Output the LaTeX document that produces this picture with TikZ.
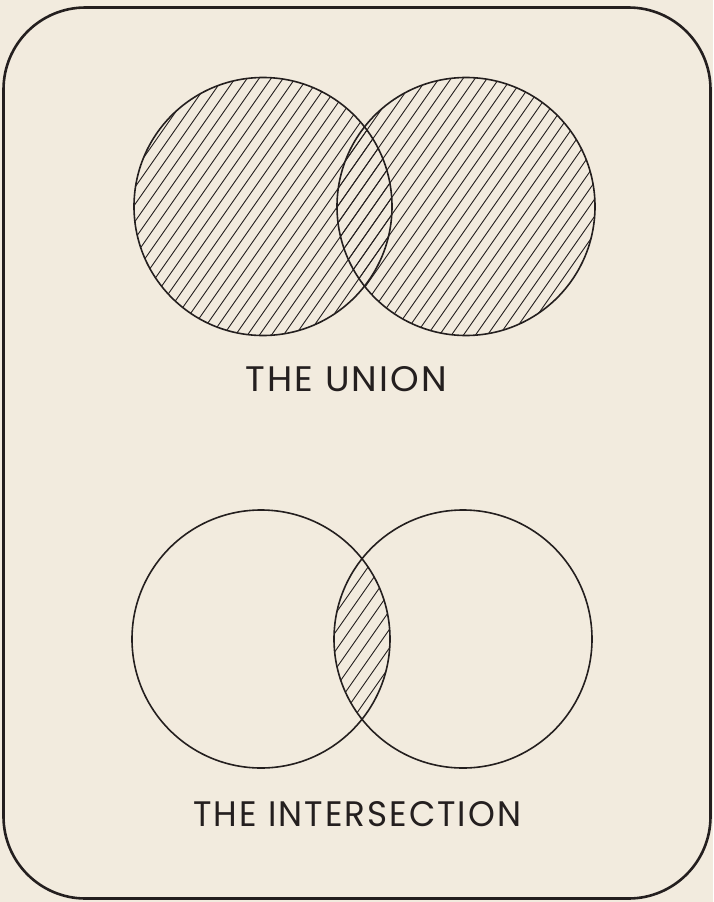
\documentclass[tikz,border=0pt]{standalone}
\usepackage{fontspec}
\setmainfont{Poppins}
\definecolor{paper}{HTML}{F2EBDE}
\definecolor{ink}{HTML}{241F1F}
\tikzset{
  outline/.style={draw=ink, line width=1.6pt},
  hatchline/.style={draw=ink, line width=0.9pt},
  frame/.style={draw=ink, line width=2.6pt, rounded corners=82pt},
  caption/.style={inner sep=0pt, text=ink}
}
\begin{document}
\begin{tikzpicture}[x=1pt,y=-1pt]
\fill[paper] (0,0) rectangle (713,902);
\useasboundingbox (0,0) rectangle (713,902);
\draw[frame] (3.5,7.5) rectangle (710.5,898.5);
% union
\coordinate (UL) at (263,206.5);
\coordinate (UR) at (466,206.5);
\begin{scope}
  \clip (UL) circle[radius=129pt];
  \foreach \c in {-110,-98,...,570} \draw[hatchline] (\c,400) -- (\c+280,0);
\end{scope}
\begin{scope}
  \clip (UR) circle[radius=129pt];
  \foreach \c in {-110,-98,...,570} \draw[hatchline] (\c,400) -- (\c+280,0);
\end{scope}
\draw[outline] (UL) circle[radius=129pt];
\draw[outline] (UR) circle[radius=129pt];
\node[caption, anchor=south west] (union) at (245,392)
  {\resizebox{202pt}{25pt}{\addfontfeature{LetterSpace=6}THE UNION}};
% intersection
\coordinate (LL) at (261,639);
\coordinate (LR) at (463,639);
\begin{scope}
  \clip (LL) circle[radius=129pt];
  \clip (LR) circle[radius=129pt];
  \foreach \c in {140,153,...,340} \draw[hatchline] (\c,800) -- (\c+420,200);
\end{scope}
\draw[outline] (LL) circle[radius=129pt];
\draw[outline] (LR) circle[radius=129pt];
\node[caption, anchor=south west] (inter) at (193,827)
  {\resizebox{328pt}{25pt}{\addfontfeature{LetterSpace=6}THE INTERSECTION}};
\end{tikzpicture}
\end{document}
